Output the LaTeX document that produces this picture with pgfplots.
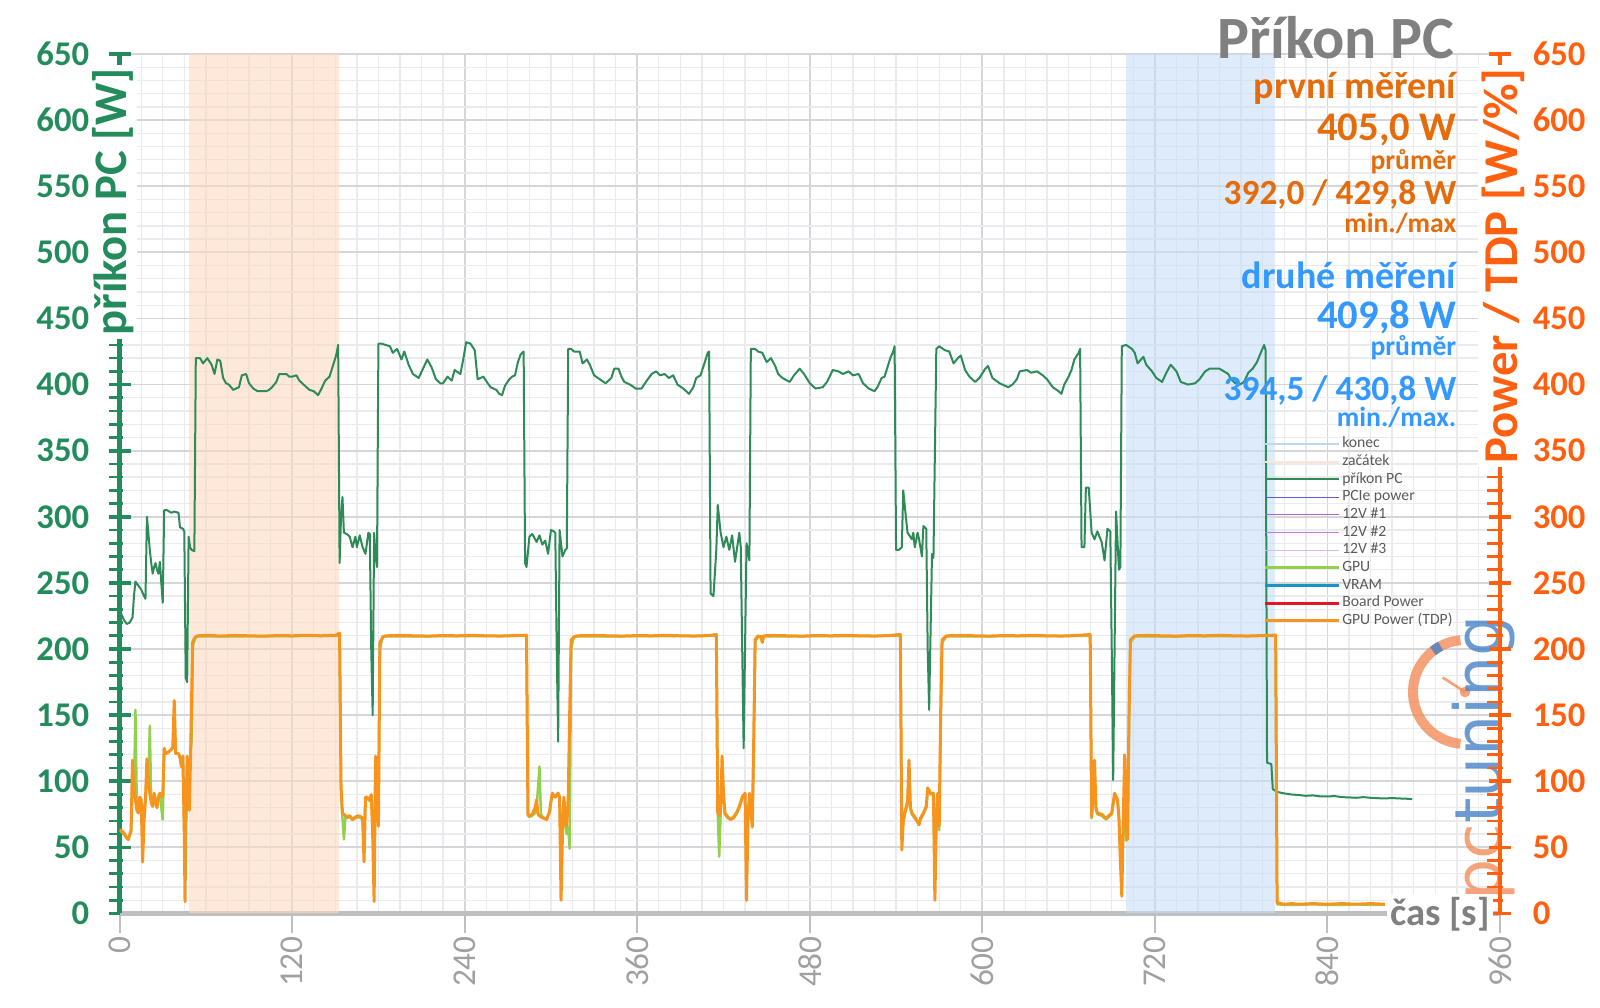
\documentclass[border=0pt]{standalone}
\usepackage{fontspec}
\setmainfont{Carlito}
\newfontfamily\logofont{DejaVu Sans}
\usepackage{pgfplots}
\pgfplotsset{compat=1.18}
\definecolor{pcgreen}{RGB}{46,139,87}
\definecolor{axgreen}{RGB}{36,140,92}
\definecolor{axorange}{RGB}{255,96,16}
\definecolor{txtorange}{RGB}{228,108,10}
\definecolor{txtblue}{RGB}{51,153,255}
\definecolor{tdporange}{RGB}{247,148,29}
\definecolor{gpugreen}{RGB}{146,208,80}
\definecolor{titlegray}{RGB}{128,128,128}
\definecolor{tickgray}{RGB}{160,160,160}
\definecolor{axisgray}{RGB}{191,191,191}
\definecolor{majgrid}{RGB}{214,214,218}
\definecolor{mingrid}{RGB}{234,234,239}
\definecolor{zacfill}{RGB}{251,217,193}
\definecolor{konfill}{RGB}{198,222,248}
\definecolor{konline}{RGB}{189,215,238}
\definecolor{zacline}{RGB}{251,229,214}
\definecolor{pcieline}{RGB}{90,90,220}
\definecolor{valine}{RGB}{170,100,210}
\definecolor{vbline}{RGB}{190,120,225}
\definecolor{vcline}{RGB}{220,180,240}
\definecolor{vramline}{RGB}{20,150,200}
\definecolor{boardline}{RGB}{230,20,40}
\definecolor{legtext}{RGB}{90,90,90}
\definecolor{logoorange}{RGB}{242,140,90}
\definecolor{logoblue}{RGB}{70,130,200}
\begin{document}
\begin{tikzpicture}[x=1pt,y=1pt]
\useasboundingbox (0,0) rectangle (480,302.4);
\begin{axis}[
  at={(35.88pt,28.35pt)}, anchor=south west,
  scale only axis, width=414.12pt, height=257.85pt,
  xmin=0, xmax=960, ymin=0, ymax=650,
  axis x line*=bottom, axis y line*=left,
  x axis line style={-, draw=axisgray, line width=1.5pt},
  y axis line style={-, draw=axgreen, line width=1.5pt},
  xtick={0,120,...,960}, ytick={0,50,...,650},
  minor x tick num=7, minor y tick num=4,
  grid=both,
  major grid style={draw=majgrid, line width=0.55pt},
  minor grid style={draw=mingrid, line width=0.4pt},
  tick align=center, major tick length=6.6pt, minor tick length=4.2pt,
  major x tick style={draw=axisgray, line width=0.6pt, yshift=-2.6pt},
  minor x tick style={draw=none},
  major y tick style={draw=axgreen, line width=1.1pt},
  minor y tick style={draw=axgreen, line width=0.8pt, xshift=-1.1pt},
  /pgf/number format/assume math mode=true,
  /pgf/number format/1000 sep={},
  scaled ticks=false,
  xticklabel style={rotate=90, anchor=east, font=\fontsize{10}{12}\selectfont, text=tickgray},
  yticklabel style={anchor=east, xshift=-2.3pt, font=\fontsize{10.4}{12}\selectfont\bfseries, text=axgreen},
  legend cell align=left,
  legend style={at={(0.8285,0.5565)}, anchor=north west, draw=none, fill=none,
    inner sep=0pt, outer sep=0pt, row sep=0pt,
    font=\fontsize{4.7}{5}\selectfont, text=legtext,
    nodes={inner sep=0.6pt, text height=3.2pt, text depth=0.9pt}},
  legend image code/.code={\draw[#1] (0pt,0pt) -- (22.2pt,0pt);},
]
% shaded intervals
\addplot[fill=zacfill, fill opacity=0.6, draw=none, forget plot] coordinates {(48.5,0) (48.5,650) (152.8,650) (152.8,0)};
\addplot[fill=konfill, fill opacity=0.6, draw=none, forget plot] coordinates {(699.7,0) (699.7,650) (803.3,650) (803.3,0)};
\addlegendimage{draw=konline, line width=0.6pt}
\addlegendentry{konec}
\addlegendimage{draw=zacline, line width=0.6pt}
\addlegendentry{začátek}
% PC power
\addplot[draw=pcgreen, line width=0.6pt, line join=round] coordinates {
(0,226)(1,227)(3,222)(5,219)(7,220)(9,224)(10,240)(11,251)(13,248)(15,245)(17,240)(18,238)(19,300)(20,288)(21,275)(22,265)(23,257)(24,262)(25,265)(26,260)(27,257)(28,266)(29,250)(30,235)(31,305)(33,305)(36,303)(38,304)(41,303)(42,292)(44,291)(45,289)(46,178)(47,175)(48,285)(49,277)(50,275)(52,274)
(53,420)(55,420)(56,420)(58,416)(61,420)(64,415)(66,408)(68,419)(70,418)(72,405)(74,401)(76,400)(79,396)(81,397)(83,398)(85,407)(88,408)(90,401)(93,397)(96,395)(98,395)(102,395)(104,396)(106,398)(109,402)(111,408)(114,408)(116,408)(118,406)(120,406)(123,407)(125,403)(128,400)(130,398)(132,396)(135,395)(138,392)(140,396)(143,403)(146,406)(148,413)(150,420)(151,424)(152,430)
(153,265)(154,300)(155,315)(156,288)(158,287)(160,285)(162,277)(164,285)(165,277)(167,286)(169,277)(171,272)(173,288)(174,287)(175,200)(176,150)(177,288)(178,270)(179,262)
(180,431)(182,431)(185,430)(188,429)(190,424)(193,427)(196,419)(198,425)(201,415)(204,408)(208,405)(211,412)(214,419)(217,413)(220,404)(223,401)(225,401)(228,406)(231,403)(233,411)(237,408)(239,419)(241,432)(244,431)(247,426)(249,404)(253,406)(256,401)(258,398)(260,397)(262,396)(264,393)(266,392)(268,399)(271,404)(273,406)(275,407)(277,417)(279,423)(281,425)
(282,265)(283,262)(285,285)(287,287)(290,281)(292,286)(294,279)(296,282)(298,272)(300,290)(302,289)(303,288)(304,200)(305,130)(306,290)(308,270)(310,275)(311,276)
(312,427)(314,427)(316,425)(320,425)(322,416)(325,419)(327,415)(330,407)(334,404)(338,401)(342,405)(344,412)(347,412)(349,406)(351,402)(355,400)(359,397)(363,397)(366,402)(370,408)(373,410)(376,407)(379,408)(382,405)(385,407)(388,400)(392,397)(396,393)(399,398)(401,405)(404,407)(407,417)(409,424)(410,425)
(411,242)(413,240)(415,275)(416,309)(418,288)(420,277)(422,285)(424,275)(426,286)(428,266)(431,288)(432,277)(433,200)(434,125)(436,280)(438,267)
(439,427)(442,427)(444,425)(447,424)(450,417)(453,420)(456,414)(458,408)(461,405)(466,402)(469,407)(473,412)(476,408)(480,401)(484,397)(489,398)(492,402)(496,411)(500,410)(503,408)(507,410)(510,407)(514,408)(517,401)(521,397)(525,395)(527,398)(530,405)(532,406)(534,413)(536,420)(538,425)(539,429)
(540,275)(542,275)(544,277)(545,320)(547,298)(548,288)(551,283)(552,288)(553,277)(555,288)(556,283)(558,270)(559,293)(561,291)(562,200)(563,154)(565,272)(566,269)
(568,427)(570,429)(574,426)(577,425)(580,416)(583,420)(585,422)(588,411)(591,406)(595,402)(598,405)(602,412)(604,414)(607,405)(612,401)(618,398)(621,400)(624,404)(626,410)(631,411)(634,409)(638,410)(642,407)(645,404)(649,398)(653,395)(655,393)(657,400)(660,406)(662,411)(664,419)(667,424)(668,427)
(669,277)(671,277)(672,322)(674,322)(676,288)(678,283)(680,289)(683,281)(685,267)(687,291)(689,289)(690,200)(691,101)(693,304)(695,260)(696,262)
(697,429)(700,430)(704,427)(706,424)(708,416)(712,421)(714,415)(718,410)(721,405)(725,402)(728,409)(731,415)(735,410)(738,402)(743,400)(748,401)(751,404)(755,410)(758,412)(761,412)(765,412)(768,410)(771,408)(773,404)(776,401)(779,400)(782,402)(785,409)(788,412)(791,417)(794,425)(796,430)(797,426)
(798,114)(801,113)(802,94)(805,92)(809,91)(815,90)(820,89.6)(825,89)(830,89.3)(835,88.6)(840,88.5)(845,88.8)(850,88)(855,87.8)(860,87.5)(865,88)(870,87.5)(875,87.2)(880,87)(885,87.3)(890,87)(895,86.8)(899,86.5)
};
\addlegendentry{příkon PC}
\addlegendimage{draw=pcieline, line width=0.3pt}
\addlegendentry{PCIe power}
\addlegendimage{draw=valine, line width=0.3pt}
\addlegendentry{12V \#1}
\addlegendimage{draw=vbline, line width=0.3pt}
\addlegendentry{12V \#2}
\addlegendimage{draw=vcline, line width=0.3pt}
\addlegendentry{12V \#3}
% GPU
\addplot[draw=gpugreen, line width=0.75pt, line join=round] coordinates {
(0,63)(1,62)(3,60)(5,57)(6,56)(8,62)(9,110)(10,90)(11,154)(12,80)(13,85)(14,88)(15,86)(16,60)(17,80)(18,86)(19,110)(20,95)(21,142)(22,85)(23,82)(24,90)(25,86)(26,82)(27,88)(28,90)(29,80)(30,71)(31,123)(32,121)(34,122)(36,124)(37,125)(38,150)(39,121)(41,121)(42,118)(43,111)(44,118)(45,60)(46,62)(47,115)(48,85)(49,118)(50,130)(51,203)(53,209.5)(153,210)
(154,90)(155,72)(156,56)(157,73)(158,72)(160,73)(162,71)(164,72)(166,73)(168,72)(169,70)(170,60)(171,86)(172,87)(174,85)(175,88)(176,70)(177,40)(178,100)(179,85)(180,70)(181,200)(183,209.5)(283,210)
(284,74)(285,73)(287,74)(289,76)(290,80)(292,111)(293,75)(295,72)(297,72)(299,76)(300,84)(301,90)(303,88)(305,90)(306,87)(307,40)(308,70)(309,86)(310,66)(311,60)(312,65)(313,49)(314,200)(316,209.5)(415,210)
(416,76)(417,43)(418,75)(419,110)(420,88)(421,75)(423,72)(425,71)(427,72)(429,75)(431,80)(433,87)(435,90)(436,30)(437,70)(438,88)(439,78)(440,65)(441,120)(442,205)(444,209.5)(543,210)
(544,60)(545,68)(546,75)(548,82)(549,110)(550,79)(551,75)(553,72)(555,69)(557,71)(559,75)(561,80)(562,92)(564,90)(566,90)(567,30)(568,70)(569,88)(570,63)(571,140)(572,205)(575,209.5)(675,210)
(676,72)(677,85)(678,110)(679,79)(680,75)(683,74)(686,71)(690,75)(692,90)(694,85)(695,72)(696,45)(697,30)(698,60)(699,100)(700,55)(701,58)(702,140)(703,205)(706,209.5)(804,210)
(805,7)(810,6.5)(820,6.5)(830,7)(840,6.5)(850,6.5)(860,7)(870,6.5)(880,6.5)
};
\addlegendentry{GPU}
\addlegendimage{draw=vramline, line width=0.9pt}
\addlegendentry{VRAM}
\addlegendimage{draw=boardline, line width=0.9pt}
\addlegendentry{Board Power}
% GPU Power (TDP)
\addplot[draw=tdporange, line width=0.9pt, line join=round] coordinates {
(0,63)(1,63)(3,61)(5,57)(6,56)(8,63)(9,116)(10,95)(11,86)(12,78)(13,76)(14,88)(15,86)(16,39)(17,70)(18,86)(19,117)(20,100)(21,91)(22,84)(23,81)(24,91)(25,85)(26,80)(27,88)(28,91)(29,89)(30,88)(31,125)(32,121)(34,122)(36,124)(37,126)(38,161)(39,121)(41,121)(42,118)(43,111)(44,119)(45,60)(45.5,9)(46,60)(47,119)(48,90)(48.5,78)(49.4,121)(50.8,205)(52,208)
(54,210)(62,210.4)(70,209.8)(80,210.3)(90,210)(100,209.7)(110,210.2)(120,210)(130,210.4)(140,210)(150,210.4)(153,212)
(154,96)(155,76)(156,75)(158,73)(160,74)(162,71)(164,73)(166,74)(168,73)(169,72)(170,39)(171,88)(172,88)(174,86)(175,90)(176,60)(177,9)(178,119)(179,90)(180,66)(181,205)(183,209)
(185,210)(195,210.3)(205,210)(215,209.8)(225,210.2)(235,210)(245,210.4)(255,210)(265,209.8)(275,210.2)(283,210.5)
(284,75)(285,74)(287,75)(289,80)(290,86)(291,75)(292,74)(293,73)(295,72)(297,71)(299,77)(300,85)(301,91)(302,89)(303,88)(304,90)(305,91)(306,88)(307,10)(308,60)(309,88)(310,70)(311,66)(312,88)(313,150)(314,207)(316,209)
(318,210)(330,210.3)(340,210)(350,209.8)(360,210.2)(370,210)(380,210.4)(390,210)(400,209.8)(410,210.2)(415,211)
(416,76)(417,74)(418,80)(419,119)(420,90)(421,76)(423,73)(425,71)(427,73)(429,76)(431,81)(433,88)(435,91)(436,10)(437,70)(438,91)(439,80)(440,66)(441,130)(442,207)
(444,210)(446,209)(447,205)(448,210)(455,210.3)(465,210)(475,209.8)(485,210.2)(495,210)(505,210.4)(515,210)(525,209.8)(535,210.2)(543,211)
(544,48)(545,70)(546,76)(548,85)(549,116)(550,80)(551,76)(553,73)(555,69)(556,67)(557,72)(559,76)(561,81)(562,95)(564,91)(566,91)(567,10)(568,70)(569,91)(570,66)(571,150)(572,207)
(575,210)(585,210.3)(595,210)(605,209.8)(615,210.2)(625,210)(635,210.4)(645,210)(655,209.8)(665,210.2)(675,211)
(676,73)(677,90)(678,116)(679,80)(680,76)(683,75)(686,72)(690,76)(692,91)(694,86)(695,73)(696,40)(697,13)(698,70)(699,120)(700,70)(701,56)(702,150)(703,207)
(706,210)(715,210.3)(725,210)(735,209.8)(745,210.2)(755,210)(765,210.4)(775,210)(785,209.8)(795,210.2)(804,210.5)
(805,8)(806,8)(810,7)(815,7.5)(820,7)(830,7.5)(840,7)(850,7.5)(860,7)(870,7.5)(880,7)
};
\addlegendentry{GPU Power (TDP)}
\end{axis}
% logo watermark
\begin{scope}[opacity=0.8]
\draw[logoorange, line width=3pt] (439.5,94.8) ++(95:15.6) arc (95:265:15.6);
\draw[logoblue, line width=3pt] (439.5,94.8) ++(118:15.6) arc (118:128:15.6);
\draw[logoorange, line width=0.8pt] (439.5,94.8) -- ++(147:8);
\fill[logoorange] (439.5,94.8) circle (1.6);
\node[rotate=90, anchor=base west, inner sep=0pt, font=\logofont\fontsize{19.5}{20}\selectfont] at (450.5,32) {\textcolor{logoorange}{pc}\textcolor{logoblue}{tuning}};
\end{scope}
\begin{axis}[
  at={(35.88pt,28.35pt)}, anchor=south west,
  scale only axis, width=414.12pt, height=257.85pt,
  xmin=0, xmax=960, ymin=0, ymax=650,
  axis x line=none, axis y line*=right,
  y axis line style={-, draw=axorange, line width=1.1pt},
  ytick={0,50,...,650}, minor y tick num=4,
  tick align=center, major tick length=6.6pt, minor tick length=5pt,
  major y tick style={draw=axorange, line width=1.1pt},
  minor y tick style={draw=axorange, line width=0.8pt, xshift=-1.5pt},
  /pgf/number format/assume math mode=true,
  yticklabel style={anchor=west, xshift=3pt, font=\fontsize{10.4}{12}\selectfont\bfseries, text=axorange},
]
\addplot[draw=none] coordinates {(0,0)};
\end{axis}
% axis labels
\node[rotate=90, anchor=base, fill=white, inner sep=1pt, font=\fontsize{14}{16}\selectfont\bfseries, text=axgreen] at (38,241.9) {příkon PC [W]};
\node[rotate=90, anchor=base, fill=white, inner sep=1pt, font=\fontsize{14.6}{17}\selectfont\bfseries, text=axorange] at (455.1,222.6) {Power / TDP [W/\%]};
\node[anchor=center, fill=white, inner sep=1pt, font=\fontsize{11.6}{13}\selectfont\bfseries, text=titlegray] at (432,28.2) {čas [s]};
% title and annotations
\node[anchor=base east, inner sep=0pt, font=\fontsize{18}{20}\selectfont\bfseries, text=titlegray] at (436.5,284.7) {Příkon PC};
\node[anchor=base east, inner sep=0pt, font=\fontsize{11.4}{13}\selectfont\bfseries, text=txtorange] at (437.1,272.7) {první měření};
\node[anchor=base east, inner sep=0pt, font=\fontsize{12.2}{14}\selectfont\bfseries, text=txtorange] at (437.1,260.2) {405,0 W};
\node[anchor=base east, inner sep=0pt, font=\fontsize{8.3}{10}\selectfont\bfseries, text=txtorange] at (437.1,251.4) {průměr};
\node[anchor=base east, inner sep=0pt, font=\fontsize{10.6}{12}\selectfont\bfseries, text=txtorange] at (437.1,241.0) {392,0 / 429,8 W};
\node[anchor=base east, inner sep=0pt, font=\fontsize{8.3}{10}\selectfont\bfseries, text=txtorange] at (437.1,232.6) {min./max};
\node[anchor=base east, inner sep=0pt, font=\fontsize{11.4}{13}\selectfont\bfseries, text=txtblue] at (437.1,215.7) {druhé měření};
\node[anchor=base east, inner sep=0pt, font=\fontsize{12.2}{14}\selectfont\bfseries, text=txtblue] at (437.1,203.9) {409,8 W};
\node[anchor=base east, inner sep=0pt, font=\fontsize{8.3}{10}\selectfont\bfseries, text=txtblue] at (437.1,195.6) {průměr};
\node[anchor=base east, inner sep=0pt, font=\fontsize{10.6}{12}\selectfont\bfseries, text=txtblue] at (437.1,182.2) {394,5 / 430,8 W};
\node[anchor=base east, inner sep=0pt, font=\fontsize{8.3}{10}\selectfont\bfseries, text=txtblue] at (437.1,174.4) {min./max.};
\end{tikzpicture}
\end{document}
